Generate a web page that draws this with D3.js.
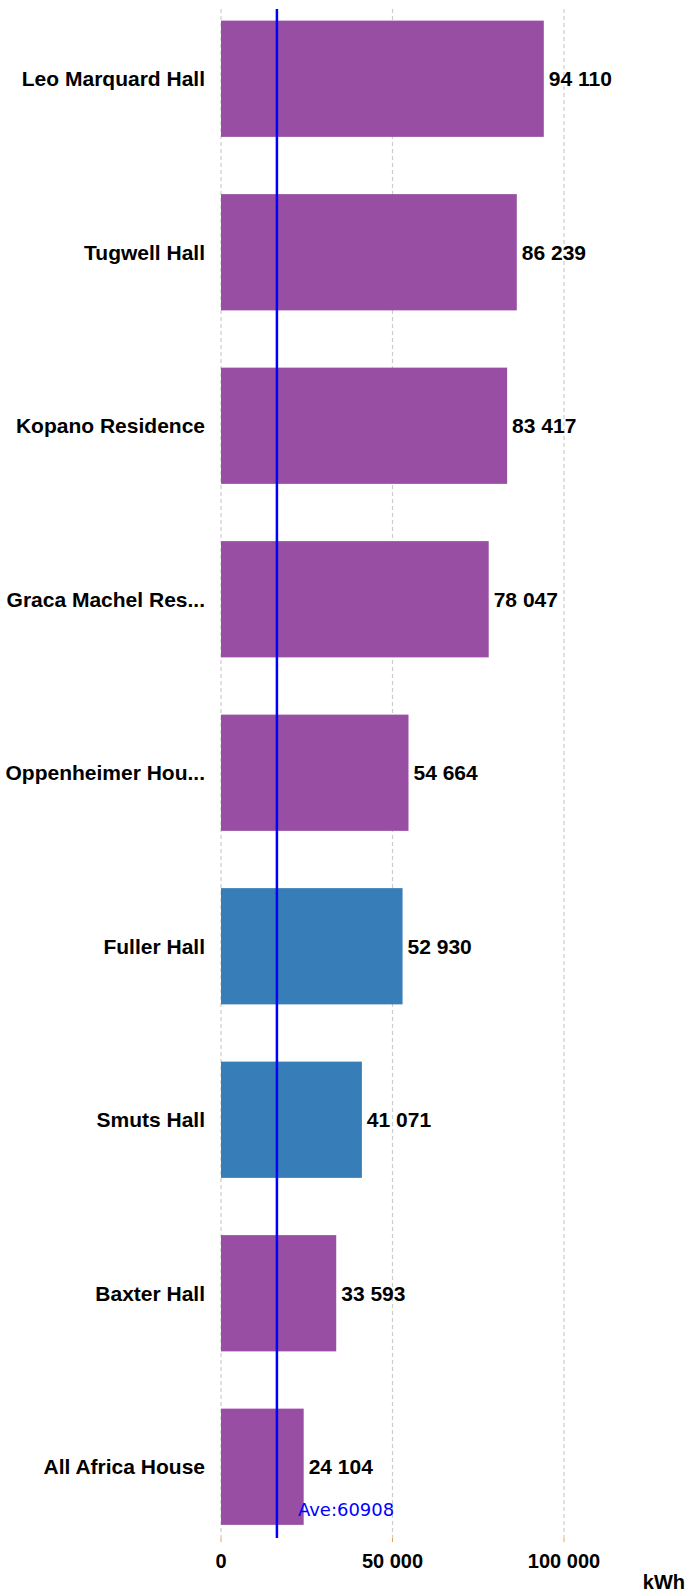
<!DOCTYPE html>
<html>
<head>
<meta charset="utf-8">
<script src="https://cdn.jsdelivr.net/npm/d3@7"></script>
<style>
  body { margin: 0; background: #fff; }
</style>
</head>
<body>
<div id="chart"></div>
<script>
// chart data
var halls = ["Leo Marquard Hall", "Tugwell Hall", "Kopano Residence", "Graca Machel Res...",
             "Oppenheimer Hou...", "Fuller Hall", "Smuts Hall", "Baxter Hall", "All Africa House"];
var usage = [94110, 86239, 83417, 78047, 54664, 52930, 41071, 33593, 24104];
var highlighted = ["Fuller Hall", "Smuts Hall"];
var tickValues = [0, 50000, 100000];
var aveLabel = "Ave:60908";
var aveLinePos = 16300;   // where the line actually sits in the picture
var unitLabel = "kWh";

var width = 687, height = 1593;

var svg = d3.select("#chart")
  .append("svg")
    .attr("width", width)
    .attr("height", height);

var x = d3.scaleLinear()
    .domain([0, 100000])
    .range([221, 564]);

var y = d3.scaleBand()
    .domain(halls)
    .range([-8, 1553.5])
    .paddingInner(0.33)
    .paddingOuter(0.165);

var fmt = function(v) { return d3.format(",")(v).replace(/,/g, " "); };

// dashed grid
svg.append("g")
  .selectAll("line")
  .data(tickValues)
  .enter()
  .append("line")
    .attr("x1", d => x(d)).attr("x2", d => x(d))
    .attr("y1", 9).attr("y2", 1538)
    .attr("stroke", "#cccccc")
    .attr("stroke-width", 1.2)
    .attr("stroke-dasharray", "4,3");

// tiny orange ticks
svg.append("g")
  .selectAll("line")
  .data(tickValues)
  .enter()
  .append("line")
    .attr("x1", d => x(d)).attr("x2", d => x(d))
    .attr("y1", 1538).attr("y2", 1542)
    .attr("stroke", "#f5a04a")
    .attr("stroke-width", 1);

// bars
svg.append("g")
  .selectAll("rect")
  .data(halls)
  .enter()
  .append("rect")
    .attr("x", x(0))
    .attr("y", d => y(d))
    .attr("width", (d, i) => x(usage[i]) - x(0))
    .attr("height", y.bandwidth())
    .attr("fill", d => highlighted.indexOf(d) >= 0 ? "#377eb8" : "#984ea3");

// value labels
svg.append("g")
  .selectAll("text")
  .data(halls)
  .enter()
  .append("text")
    .attr("x", (d, i) => x(usage[i]) + 5)
    .attr("y", d => y(d) + y.bandwidth() / 2)
    .attr("dy", "0.35em")
    .style("font-family", "Liberation Sans, Arial, sans-serif")
    .style("font-weight", "bold")
    .style("font-size", "21px")
    .attr("fill", "#000")
    .text((d, i) => fmt(usage[i]));

// category labels
svg.append("g")
  .selectAll("text")
  .data(halls)
  .enter()
  .append("text")
    .attr("x", 205)
    .attr("y", d => y(d) + y.bandwidth() / 2)
    .attr("dy", "0.35em")
    .attr("text-anchor", "end")
    .style("font-family", "Liberation Sans, Arial, sans-serif")
    .style("font-weight", "bold")
    .style("font-size", "21px")
    .attr("fill", "#000")
    .text(d => d);

// x tick labels
svg.append("g")
  .selectAll("text")
  .data(tickValues)
  .enter()
  .append("text")
    .attr("x", d => x(d))
    .attr("y", 1561)
    .attr("dy", "0.35em")
    .attr("text-anchor", "middle")
    .style("font-family", "Liberation Sans, Arial, sans-serif")
    .style("font-weight", "bold")
    .style("font-size", "20px")
    .text(d => fmt(d));

// unit
svg.append("text")
    .attr("x", 685)
    .attr("y", 1589)
    .attr("text-anchor", "end")
    .style("font-family", "Liberation Sans, Arial, sans-serif")
    .style("font-weight", "bold")
    .style("font-size", "20px")
    .text(unitLabel);

// average line
svg.append("line")
    .attr("x1", x(aveLinePos)).attr("x2", x(aveLinePos))
    .attr("y1", 9).attr("y2", 1538)
    .attr("stroke", "#0000ff")
    .attr("stroke-width", 2.5);

svg.append("text")
    .attr("x", x(aveLinePos) + 21)
    .attr("y", 1510)
    .attr("dy", "0.35em")
    .style("font-family", "DejaVu Sans, sans-serif")
    .style("font-size", "18px")
    .attr("fill", "#0000ff")
    .text(aveLabel);
</script>
</body>
</html>
